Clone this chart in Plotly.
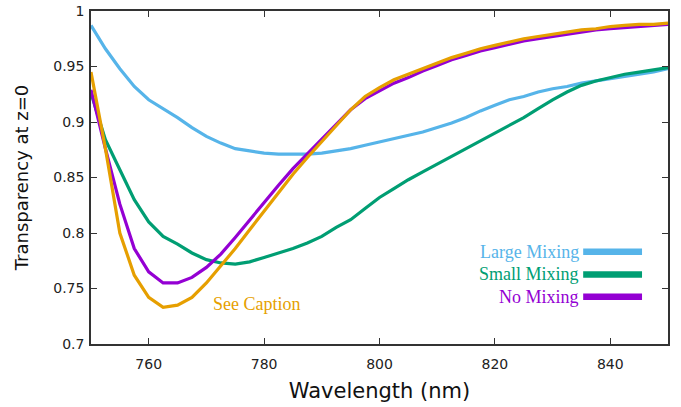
import plotly.graph_objects as go

wavelength = [750, 752.5, 755, 757.5, 760, 762.5, 765, 767.5, 770, 772.5, 775, 777.5,
              780, 782.5, 785, 787.5, 790, 792.5, 795, 797.5, 800, 802.5, 805, 807.5,
              810, 812.5, 815, 817.5, 820, 822.5, 825, 827.5, 830, 832.5, 835, 837.5,
              840, 842.5, 845, 847.5, 850]

large_mixing = [0.987, 0.966, 0.948, 0.932, 0.920, 0.912, 0.904, 0.895, 0.887, 0.881,
                0.876, 0.874, 0.872, 0.871, 0.871, 0.871, 0.872, 0.874, 0.876, 0.879,
                0.882, 0.885, 0.888, 0.891, 0.895, 0.899, 0.904, 0.910, 0.915, 0.920,
                0.923, 0.927, 0.930, 0.932, 0.935, 0.937, 0.939, 0.941, 0.943, 0.945, 0.948]

small_mixing = [0.926, 0.884, 0.857, 0.830, 0.810, 0.797, 0.790, 0.782, 0.776, 0.773,
                0.772, 0.774, 0.778, 0.782, 0.786, 0.791, 0.797, 0.805, 0.812, 0.822,
                0.832, 0.840, 0.848, 0.855, 0.862, 0.869, 0.876, 0.883, 0.890, 0.897,
                0.904, 0.912, 0.920, 0.927, 0.933, 0.937, 0.940, 0.943, 0.945, 0.947, 0.949]

no_mixing = [0.929, 0.876, 0.826, 0.786, 0.765, 0.755, 0.755, 0.760, 0.769, 0.781,
             0.796, 0.812, 0.828, 0.843, 0.858, 0.871, 0.884, 0.898, 0.911, 0.921,
             0.928, 0.935, 0.940, 0.946, 0.951, 0.956, 0.960, 0.964, 0.967, 0.970,
             0.973, 0.975, 0.977, 0.979, 0.981, 0.983, 0.984, 0.985, 0.986, 0.987, 0.988]

see_caption = [0.945, 0.876, 0.800, 0.762, 0.742, 0.733, 0.735, 0.742, 0.755, 0.770,
               0.786, 0.803, 0.820, 0.837, 0.853, 0.868, 0.882, 0.897, 0.911, 0.923,
               0.931, 0.938, 0.943, 0.948, 0.953, 0.958, 0.962, 0.966, 0.969, 0.972,
               0.975, 0.977, 0.979, 0.981, 0.983, 0.984, 0.986, 0.987, 0.988, 0.988, 0.989]

x_ticks = [760, 780, 800, 820, 840]
y_ticks = [0.7, 0.75, 0.8, 0.85, 0.9, 0.95, 1.0]
y_tick_labels = ["0.7", "0.75", "0.8", "0.85", "0.9", "0.95", "1"]

legend_names = ["Large Mixing", "Small Mixing", "No Mixing"]
colors = {"Large Mixing": "#56B4E9", "Small Mixing": "#009E73",
          "No Mixing": "#9400D3", "See Caption": "#E69F00"}

fig = go.Figure()
series = [("Large Mixing", large_mixing), ("Small Mixing", small_mixing),
          ("No Mixing", no_mixing), ("See Caption", see_caption)]
for name, vals in series:
    fig.add_trace(go.Scatter(x=wavelength, y=vals, mode="lines", name=name,
                             line=dict(color=colors[name], width=3.2),
                             showlegend=False))

# custom legend (right-aligned serif labels with line samples)
legend_y = [0.277, 0.209, 0.142]
for name, ly in zip(legend_names, legend_y):
    fig.add_annotation(xref="paper", yref="paper", x=0.849, y=ly, text=name,
                       showarrow=False, xanchor="right", yanchor="middle",
                       font=dict(family="Liberation Serif", size=18, color=colors[name]))
    fig.add_shape(type="line", xref="paper", yref="paper", x0=0.853, x1=0.955,
                  y0=ly, y1=ly, line=dict(color=colors[name], width=6.5))

fig.add_annotation(x=770.8, y=0.736, xref="x", yref="y", text="See Caption",
                   showarrow=False, xanchor="left", yanchor="middle",
                   font=dict(family="Liberation Serif", size=18, color=colors["See Caption"]))

axis_common = dict(showline=True, linecolor="#333333", linewidth=1.5, mirror="allticks",
                   ticks="inside", ticklen=6, tickcolor="#333333", tickwidth=1.2,
                   showgrid=False, zeroline=False, automargin=False,
                   tickfont=dict(family="DejaVu Sans", size=14, color="#222222"))

fig.update_xaxes(range=[750, 850], tickvals=x_ticks, ticklabelstandoff=6,
                 title=dict(text="Wavelength (nm)", standoff=13,
                            font=dict(family="DejaVu Sans", size=21, color="#111111")),
                 **axis_common)
fig.update_yaxes(range=[0.7, 1.0], tickvals=y_ticks, ticktext=y_tick_labels,
                 ticklabelstandoff=2,
                 title=dict(text="Transparency at z=0", standoff=20,
                            font=dict(family="DejaVu Sans", size=18, color="#111111")),
                 **axis_common)

fig.update_layout(width=681, height=407, margin=dict(l=91, r=13, t=11, b=63),
                  plot_bgcolor="white", paper_bgcolor="white")

fig.write_html("out.html")
